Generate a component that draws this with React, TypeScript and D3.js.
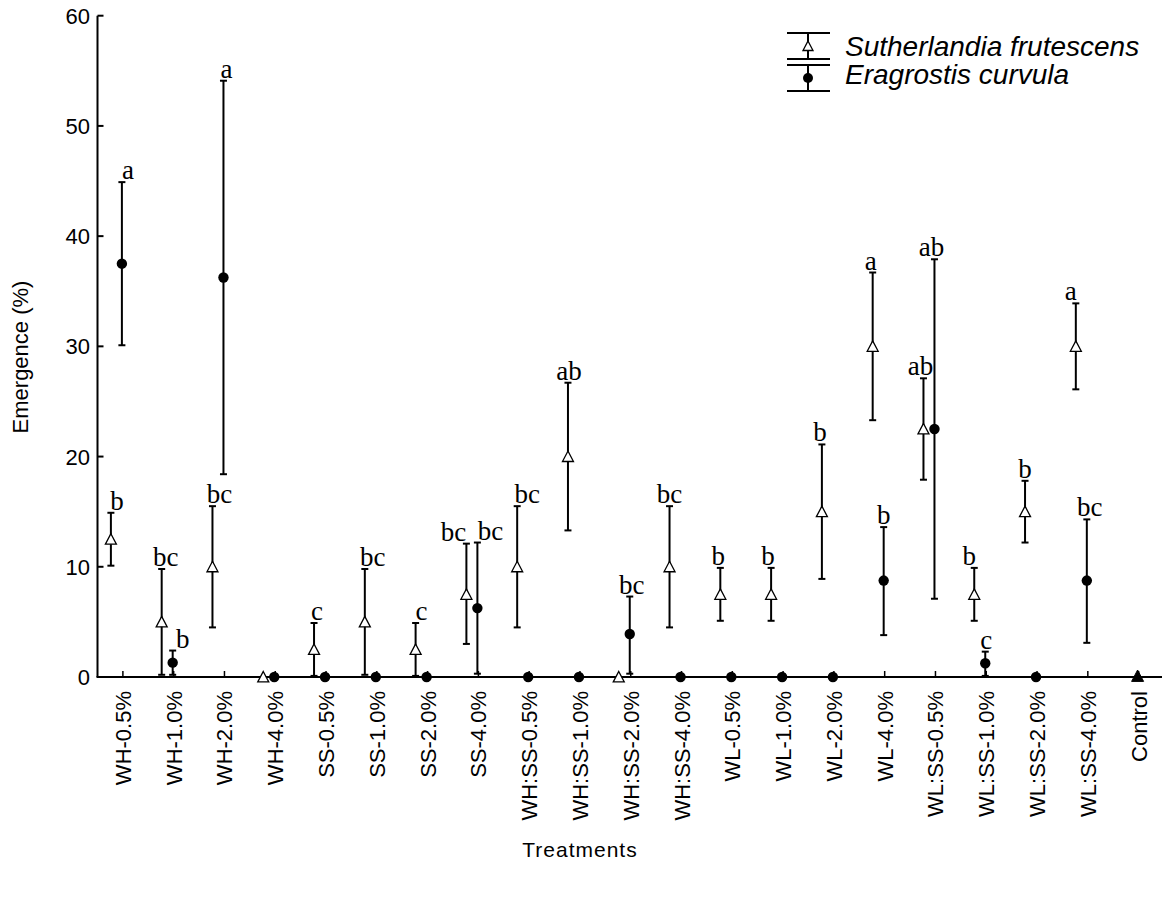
import React from "react";
import * as d3 from "d3";

const categories = [
  "WH-0.5%", "WH-1.0%", "WH-2.0%", "WH-4.0%",
  "SS-0.5%", "SS-1.0%", "SS-2.0%", "SS-4.0%",
  "WH:SS-0.5%", "WH:SS-1.0%", "WH:SS-2.0%", "WH:SS-4.0%",
  "WL-0.5%", "WL-1.0%", "WL-2.0%", "WL-4.0%",
  "WL:SS-0.5%", "WL:SS-1.0%", "WL:SS-2.0%", "WL:SS-4.0%",
  "Control",
];

// Sutherlandia frutescens (open triangles)
const sfMean = [12.5, 5, 10, 0, 2.5, 5, 2.5, 7.5, 10, 20, 0, 10, 7.5, 7.5, 15, 30, 22.5, 7.5, 15, 30, null];
const sfUpper = [14.9, 9.8, 15.5, null, 4.9, 9.8, 4.9, 12.1, 15.5, 26.7, null, 15.5, 9.9, 9.9, 21.1, 36.7, 27.1, 9.9, 17.8, 33.9, null];
const sfLower = [10.1, 0.2, 4.5, null, 0.1, 0.2, 0.1, 3.0, 4.5, 13.3, null, 4.5, 5.1, 5.1, 8.9, 23.3, 17.9, 5.1, 12.2, 26.1, null];
const sfLetters = ["b", "bc", "bc", "", "c", "bc", "c", "bc", "bc", "ab", "", "bc", "b", "b", "b", "a", "ab", "b", "b", "a", ""];

// Eragrostis curvula (filled circles)
const ecMean = [37.5, 1.3, 36.25, 0, 0, 0, 0, 6.25, 0, 0, 3.9, 0, 0, 0, 0, 8.75, 22.5, 1.25, 0, 8.75, null];
const ecUpper = [44.9, 2.4, 54.1, null, null, null, null, 12.2, null, null, 7.3, null, null, null, null, 13.6, 37.9, 2.3, null, 14.3, null];
const ecLower = [30.1, 0.2, 18.4, null, null, null, null, 0.3, null, null, 0.3, null, null, null, null, 3.8, 7.1, 0.1, null, 3.1, null];
const ecLetters = ["a", "b", "a", "", "", "", "", "bc", "", "", "bc", "", "", "", "", "b", "ab", "c", "", "bc", ""];

// Control (both species 0)
const controlMean = [0];

const yTicks = [0, 10, 20, 30, 40, 50, 60];
const legendLabels = ["Sutherlandia frutescens", "Eragrostis curvula"];

// label nudges (style only)
const sfLabelDx = [6, 4, 7, 0, 3, 8, 6, -13, 10, 1, 0, 0, -2, -3, -2, -2, -3, -5, 0, -5, 0];
const ecLabelDx = [6, 10, 3, 0, 0, 0, 0, 13, 0, 0, 2, 0, 0, 0, 0, 0, -3, 1, 0, 3, 0];

const W = 1162;
const H = 915;
const left = 97.5;
const right = 1164;
const top = 15.7;
const bottom = 677;

const SANS = "'Liberation Sans', Arial, sans-serif";
const SERIF = "'Liberation Serif', 'Times New Roman', serif";

export default function App() {
  const x = d3.scaleBand<string>().domain(categories).range([left, right]).padding(0);
  const y = d3.scaleLinear().domain([0, 60]).range([bottom, top]);
  const cx = (i: number) => (x(categories[i]) as number) + x.bandwidth() / 2;

  const triPath = (px: number, py: number, s = 5.5) =>
    `M${px},${py - s}L${px + s},${py + s * 0.9}L${px - s},${py + s * 0.9}Z`;

  const cap = 3.5;
  const errBar = (px: number, lo: number, hi: number, key: string) => (
    <g key={key} stroke="#000" strokeWidth={2}>
      <line x1={px} x2={px} y1={y(lo)} y2={y(hi)} />
      <line x1={px - cap} x2={px + cap} y1={y(hi)} y2={y(hi)} />
      <line x1={px - cap} x2={px + cap} y1={y(lo)} y2={y(lo)} />
    </g>
  );

  const triOff = -12;
  const cirOff = -1;

  return (
    <div style={{ position: "absolute", left: 0, top: 0 }}>
      <svg width={W} height={H} style={{ display: "block", background: "#fff" }}>
        {/* axes */}
        <line x1={left} x2={left} y1={top} y2={bottom} stroke="#000" strokeWidth={2} />
        <line x1={left - 1} x2={W} y1={bottom} y2={bottom} stroke="#000" strokeWidth={2} />
        {yTicks.map((t) => (
          <g key={"yt" + t}>
            <line x1={left} x2={left + 6} y1={y(t)} y2={y(t)} stroke="#000" strokeWidth={2} />
            <text x={90} y={y(t) + 8} textAnchor="end" fontFamily={SANS} fontSize={22} fill="#000">
              {t}
            </text>
          </g>
        ))}
        {categories.map((c, i) => (
          <g key={"xt" + c}>
            <line x1={cx(i)} x2={cx(i)} y1={bottom} y2={bottom - 6} stroke="#000" strokeWidth={1.5} />
            <text
              transform={`translate(${cx(i) + 8},${691}) rotate(-90)`}
              textAnchor="end"
              fontFamily={SANS}
              fontSize={22}
              fill="#000"
            >
              {c}
            </text>
          </g>
        ))}
        <text
          transform={`translate(${28},${357}) rotate(-90)`}
          textAnchor="middle"
          fontFamily={SANS}
          fontSize={22}
          fill="#000"
        >
          Emergence (%)
        </text>
        <text x={580} y={857} textAnchor="middle" fontFamily={SANS} fontSize={21} fill="#000" letterSpacing={1}>
          Treatments
        </text>

        {/* error bars */}
        {sfMean.map((m, i) =>
          m !== null && sfUpper[i] !== null ? errBar(cx(i) + triOff, sfLower[i] as number, sfUpper[i] as number, "sfe" + i) : null
        )}
        {ecMean.map((m, i) =>
          m !== null && ecUpper[i] !== null ? errBar(cx(i) + cirOff, ecLower[i] as number, ecUpper[i] as number, "ece" + i) : null
        )}

        {/* markers */}
        {sfMean.map((m, i) =>
          m !== null ? (
            <path key={"sfm" + i} d={triPath(cx(i) + triOff, y(m))} fill="#fff" stroke="#000" strokeWidth={1.3} />
          ) : null
        )}
        {ecMean.map((m, i) =>
          m !== null ? <circle key={"ecm" + i} cx={cx(i) + cirOff} cy={y(m)} r={5.2} fill="#000" /> : null
        )}
        {controlMean.map((m, i) => (
          <path key={"ctl" + i} d={triPath(cx(categories.length - 1) - 1, y(m) - 1, 6)} fill="#000" stroke="#000" strokeWidth={1} />
        ))}

        {/* letters */}
        {sfLetters.map((l, i) =>
          l && sfUpper[i] !== null ? (
            <text key={"sfl" + i} x={cx(i) + triOff + sfLabelDx[i]} y={y(sfUpper[i] as number) - 3} textAnchor="middle" fontFamily={SERIF} fontSize={27} fill="#000">
              {l}
            </text>
          ) : null
        )}
        {ecLetters.map((l, i) =>
          l && ecUpper[i] !== null ? (
            <text key={"ecl" + i} x={cx(i) + cirOff + ecLabelDx[i]} y={y(ecUpper[i] as number) - 3} textAnchor="middle" fontFamily={SERIF} fontSize={27} fill="#000">
              {l}
            </text>
          ) : null
        )}

        {/* legend */}
        <g stroke="#000" strokeWidth={2}>
          <line x1={808} x2={808} y1={33} y2={59} />
          <line x1={787} x2={830} y1={33} y2={33} />
          <line x1={787} x2={830} y1={59} y2={59} />
          <line x1={808} x2={808} y1={65} y2={91} />
          <line x1={787} x2={830} y1={65} y2={65} />
          <line x1={787} x2={830} y1={91} y2={91} />
        </g>
        <path d={triPath(808, 46, 5)} fill="#fff" stroke="#000" strokeWidth={1.3} />
        <circle cx={808} cy={78} r={5} fill="#000" />
        <text x={845} y={56} fontFamily={SANS} fontStyle="italic" fontSize={28} fill="#000">
          {legendLabels[0]}
        </text>
        <text x={845} y={84} fontFamily={SANS} fontStyle="italic" fontSize={28} fill="#000">
          {legendLabels[1]}
        </text>
      </svg>
    </div>
  );
}
